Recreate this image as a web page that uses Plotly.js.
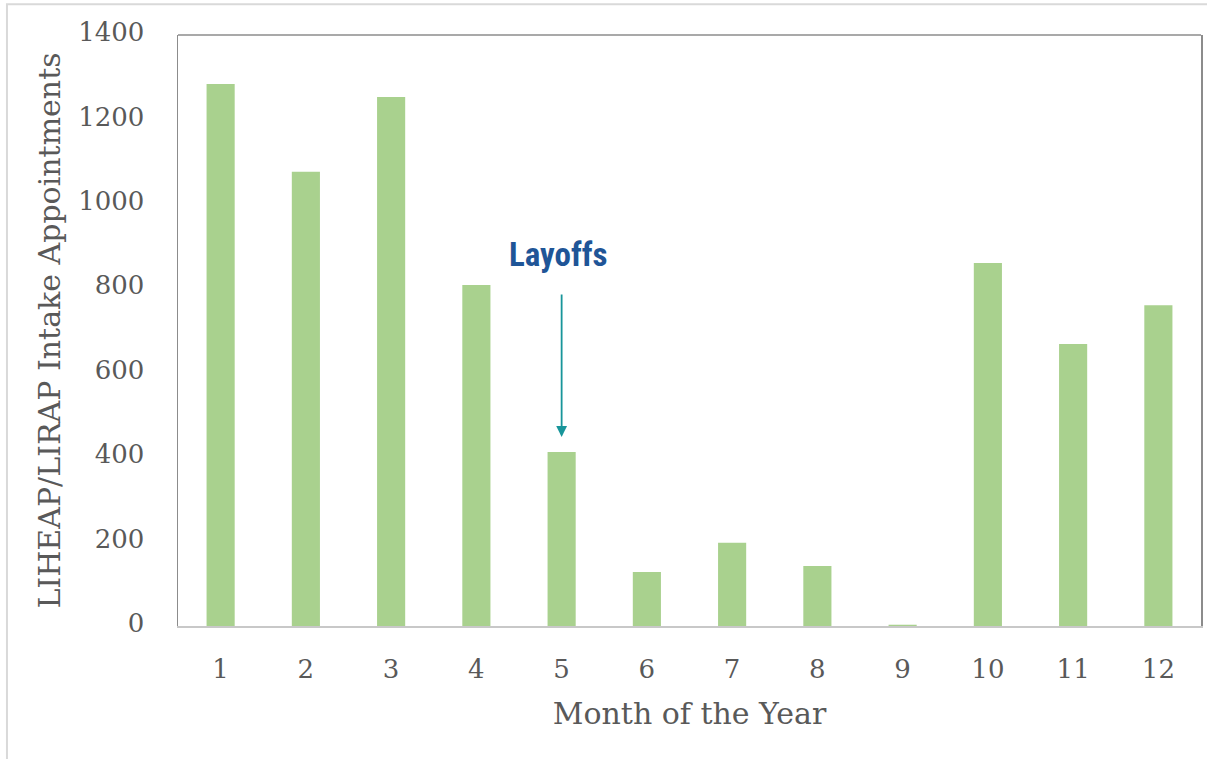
<!DOCTYPE html>
<html><head><meta charset="utf-8">
<script src="https://cdn.plot.ly/plotly-3.0.1.min.js"></script>
<style>html,body{margin:0;padding:0;background:#fff;}#chart{width:1207px;height:759px;}</style>
</head><body><div id="chart"></div>
<script>
var months = ['1','2','3','4','5','6','7','8','9','10','11','12'];
var appointments = [1284, 1076, 1253, 808, 412, 128, 197, 142, 3, 860, 668, 760];
var yTicks = [0, 200, 400, 600, 800, 1000, 1200, 1400];
var annotationLabel = 'Layoffs';
var annotationMonth = '5';
var arrowTip = 448, arrowTail = 789, labelLevel = 880;

var serif = '"DejaVu Serif", "Liberation Serif", serif';
var monthIndex = months.indexOf(annotationMonth);
var trace = {
  type: 'bar', x: months, y: appointments,
  marker: {color: '#a9d18e'}, width: 0.33, hoverinfo: 'x+y'
};
var layout = {
  width: 1207, height: 759,
  margin: {l: 178, r: 6, t: 35, b: 133},
  paper_bgcolor: '#fff', plot_bgcolor: '#fff',
  showlegend: false,
  font: {family: serif, color: '#595959', size: 26},
  xaxis: {
    type: 'category', showgrid: false, zeroline: false,
    showline: true, linecolor: '#c8c8c8', linewidth: 1.5,
    ticks: '', ticklabelstandoff: 19,
    tickfont: {family: serif, size: 26, color: '#595959'},
    title: {text: 'Month of the Year', font: {family: serif, size: 30, color: '#595959'}, standoff: 20}
  },
  yaxis: {
    range: [0, 1400], tickvals: yTicks, showgrid: false, zeroline: false,
    showline: true, mirror: true, linecolor: '#8c8c8c', linewidth: 1.5,
    ticks: '', ticklabelstandoff: 27, ticklabelshift: -3,
    tickfont: {family: serif, size: 26, color: '#595959'},
    title: {text: 'LIHEAP/LIRAP Intake Appointments', font: {family: serif, size: 30, color: '#595959'}, standoff: 8}
  },
  shapes: [
    {type: 'line', xref: 'paper', yref: 'paper', x0: 0, x1: 1, y0: 1, y1: 1, line: {color: '#8c8c8c', width: 1.5}},
    {type: 'rect', xref: 'paper', yref: 'paper', x0: -0.1672, x1: 1.01, y0: -0.232, y1: 1.052, line: {color: '#d9d9d9', width: 2}, layer: 'below'}
  ],
  annotations: [
    {x: monthIndex, y: labelLevel, xref: 'x', yref: 'y', text: annotationLabel, showarrow: false,
     font: {family: '"Liberation Sans Narrow", "Roboto Condensed", "Liberation Sans", sans-serif', size: 33, color: '#1f5597', weight: 'bold'},
     xshift: -3},
    {x: monthIndex, y: arrowTip, xref: 'x', yref: 'y', ax: monthIndex, ay: arrowTail, axref: 'x', ayref: 'y',
     text: '', showarrow: true, arrowhead: 2, arrowsize: 1.2, arrowwidth: 1.8, arrowcolor: '#18959a'}
  ]
};
Plotly.newPlot('chart', [trace], layout, {displayModeBar: false, staticPlot: true});
</script></body></html>
